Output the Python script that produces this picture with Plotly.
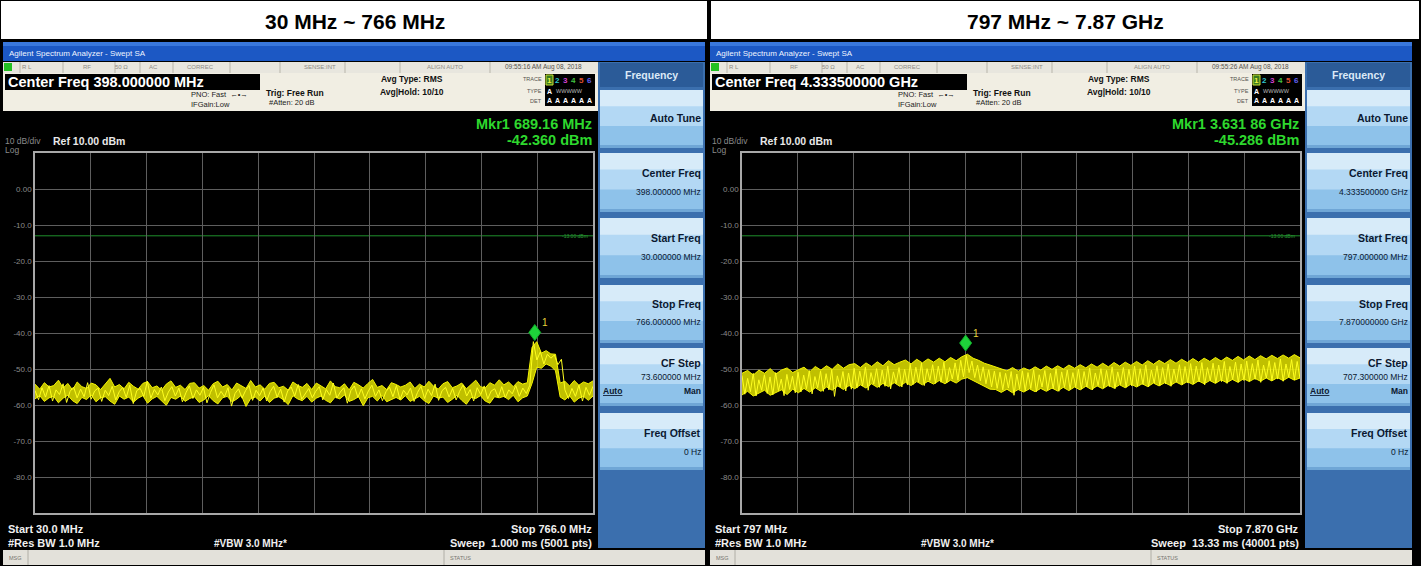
import numpy as np
import plotly.graph_objects as go

W, H = 1421, 566
FONT = "Liberation Sans, Arial, sans-serif"

# ------------------------------------------------------------------ data
panel_titles = ["30 MHz ~ 766 MHz", "797 MHz ~ 7.87 GHz"]
left_start_mhz, left_stop_mhz = 30.0, 766.0
right_start_mhz, right_stop_mhz = 797.0, 7870.0
ref_level_dbm = 10.0
bottom_level_dbm = -90.0
y_tick_values = [0, -10, -20, -30, -40, -50, -60, -70, -80]
y_tick_labels = ["0.00", "-10.0", "-20.0", "-30.0", "-40.0", "-50.0", "-60.0", "-70.0", "-80.0"]
limit_line_dbm = -13.0
left_marker_mhz, left_marker_dbm = 689.16, -42.36
right_marker_mhz, right_marker_dbm = 3631.86, -45.286

left_trace_max_dbm = [
    -54.2, -55.6, -53.8, -55.0, -54.6, -53.1, -55.3, -54.0, -55.8, -53.6, -54.9, -55.4, -53.9, -54.4, -55.7, -54.1, -52.6, -55.0, -54.3, -55.5,
    -53.7, -54.8, -55.6, -54.0, -53.5, -55.2, -54.7, -55.9, -54.2, -53.3, -55.1, -54.5, -55.7, -54.0, -53.8, -55.3, -54.6, -55.9, -54.1, -53.4,
    -55.0, -54.3, -55.8, -53.9, -54.7, -55.4, -53.2, -55.0, -54.4, -55.6, -54.0, -53.7, -55.2, -54.8, -55.9, -53.6, -54.5, -55.1, -54.0, -55.7,
    -53.9, -54.6, -55.5, -53.3, -54.9, -55.2, -54.1, -55.8, -53.7, -54.4, -55.3, -54.0, -52.9, -55.1, -54.6, -55.7, -53.8, -54.3, -55.0, -54.5,
    -53.6, -55.4, -54.2, -55.0, -53.4, -54.8, -55.6, -54.1, -53.5, -55.2, -54.7, -53.9, -55.5, -54.3, -53.1, -54.9, -55.3, -53.8, -54.5, -53.0,
    -54.4, -53.6, -54.9, -53.5, -54.2, -53.8, -44.0, -42.4, -45.6, -44.9, -45.8, -45.9, -53.9, -53.4, -54.7, -53.2, -54.5, -53.6, -54.1, -53.3,
]
left_trace_min_dbm = [
    -58.3, -57.4, -59.0, -58.0, -57.6, -59.4, -58.1, -57.3, -58.8, -59.6, -57.9, -58.5, -57.2, -59.1, -58.0, -57.7, -58.9, -59.8, -57.5, -58.4,
    -57.8, -59.2, -58.1, -57.4, -59.5, -58.3, -57.6, -58.9, -60.1, -57.9, -58.4, -57.5, -59.0, -58.2, -57.7, -59.3, -58.6, -57.4, -58.8, -59.7,
    -58.0, -57.6, -59.1, -58.4, -57.3, -60.4, -58.2, -57.8, -58.9, -57.5, -59.3, -58.1, -57.7, -58.6, -59.9, -57.4, -58.3, -58.8, -57.6, -59.2,
    -58.1, -57.5, -58.7, -59.4, -57.8, -58.3, -57.2, -59.0, -58.5, -57.7, -60.2, -58.0, -57.6, -58.9, -57.3, -59.1, -58.4, -57.9, -58.6, -57.4,
    -59.0, -58.2, -57.6, -58.8, -59.6, -57.5, -58.1, -57.8, -59.3, -58.4, -57.3, -58.7, -59.8, -57.9, -58.2, -57.4, -58.9, -59.5, -57.7, -58.0,
    -57.6, -58.5, -57.3, -59.1, -58.0, -57.5, -54.0, -49.5, -49.8, -48.6, -49.2, -50.5, -57.8, -58.6, -57.4, -59.2, -58.1, -57.6, -58.7, -57.5,
]
# individual sweep samples (dBm)
left_trace_dbm = [
    -56.0, -58.5, -55.2, -57.8, -54.6, -58.9, -55.8, -57.1, -54.1, -59.3, -56.2, -55.0, -58.0, -55.6, -57.7, -53.8, -58.4, -56.1, -55.3, -59.0,
    -55.9, -57.4, -54.8, -58.6, -56.3, -55.1, -57.9, -54.5, -59.6, -56.0, -55.4, -57.6, -53.4, -58.1, -55.7, -57.2, -55.0, -58.8, -56.4, -54.9,
    -57.5, -55.3, -59.1, -56.6, -54.7, -58.2, -55.8, -57.3, -55.1, -59.4, -56.5, -54.4, -58.0, -56.2, -57.7, -55.2, -60.3, -56.8, -55.5, -58.1,
    -56.0, -54.6, -58.7, -55.9, -57.4, -55.3, -58.9, -56.3, -54.8, -57.8, -55.6, -59.2, -56.1, -55.0, -57.5, -54.3, -58.4, -56.7, -55.4, -58.0,
    -56.2, -54.9, -58.6, -55.7, -57.3, -53.9, -58.1, -56.4, -55.2, -59.5, -56.0, -54.7, -57.9, -55.5, -58.3, -56.1, -54.5, -57.6, -55.8, -58.8,
    -56.3, -55.0, -57.7, -54.6, -58.5, -55.9, -57.2, -55.3, -59.0, -56.5, -54.8, -58.2, -55.6, -57.4, -54.2, -58.7, -56.0, -55.1, -57.8, -55.4,
    -58.6, -56.2, -54.4, -57.5, -55.7, -58.9, -55.2, -57.1, -54.7, -58.3, -56.1, -55.5, -57.9, -54.9, -58.0, -55.8, -56.9, -54.6, -57.6, -55.3,
    -56.8, -54.5, -42.4, -47.5, -45.2, -48.6, -45.9, -47.0, -46.1, -48.8, -47.3, -55.8, -58.2, -55.4, -57.6, -54.5, -58.9, -55.1, -57.3, -54.8,
]
right_trace_max_dbm = [
    -51.2, -50.4, -51.7, -50.3, -51.2, -49.9, -51.4, -50.3, -49.7, -51.0, -50.2, -49.5, -50.8, -49.3, -50.3, -49.1, -50.1, -48.6, -49.8, -48.8,
    -48.5, -49.6, -48.3, -49.3, -48.0, -49.1, -47.7, -48.8, -48.1, -47.5, -48.6, -47.3, -48.3, -47.2, -48.1, -47.0, -48.0, -46.8, -47.7, -46.6,
    -45.9, -47.0, -47.6, -48.4, -48.9, -49.5, -49.9, -50.5, -49.6, -50.6, -49.7, -50.4, -49.4, -50.3, -49.2, -50.1, -49.1, -50.0, -48.9, -49.8,
    -48.8, -49.7, -48.6, -49.5, -48.4, -49.4, -48.2, -49.2, -48.1, -49.0, -47.9, -48.9, -47.7, -48.7, -47.6, -48.5, -47.4, -48.4, -47.3, -48.2,
    -47.1, -48.1, -47.0, -47.9, -46.8, -47.8, -46.7, -47.6, -46.5, -47.5, -46.4, -47.4, -46.3, -47.2, -46.2, -47.1, -46.1, -47.0, -46.0, -46.9,
]
right_trace_min_dbm = [
    -57.2, -56.2, -57.5, -56.8, -55.9, -57.3, -56.5, -55.8, -57.1, -55.6, -56.6, -55.4, -56.4, -55.2, -56.2, -55.0, -55.9, -54.7, -55.7, -54.6,
    -55.5, -54.4, -55.3, -54.1, -55.1, -54.0, -54.9, -53.8, -54.8, -53.7, -54.6, -53.5, -54.4, -53.4, -54.2, -53.2, -54.1, -53.1, -53.9, -52.8,
    -52.4, -53.2, -54.0, -54.9, -55.6, -55.7, -56.5, -55.6, -56.6, -55.7, -56.4, -55.5, -56.3, -55.4, -56.2, -55.3, -56.1, -55.1, -56.0, -55.0,
    -55.8, -54.8, -55.7, -54.7, -55.5, -54.5, -55.3, -54.4, -55.2, -54.2, -55.0, -54.1, -54.9, -53.9, -54.7, -53.8, -54.6, -53.6, -54.4, -53.5,
    -54.3, -53.3, -54.1, -53.2, -54.0, -53.0, -53.8, -52.9, -53.7, -52.7, -53.5, -52.6, -53.4, -52.5, -53.3, -52.4, -53.2, -52.3, -53.1, -52.5,
]
right_trace_dbm = [
    -51.8, -57.0, -52.6, -56.3, -51.2, -57.5, -53.0, -55.9, -51.6, -56.8, -52.2, -57.2, -51.0, -56.0, -52.8, -57.4, -51.5, -55.7, -52.0, -56.6,
    -50.9, -56.4, -51.7, -55.5, -50.4, -56.9, -52.1, -55.2, -50.6, -56.2, -51.3, -55.8, -50.2, -57.6, -51.9, -55.0, -50.7, -56.1, -51.1, -55.6,
    -49.8, -55.3, -50.6, -54.7, -49.5, -55.9, -51.0, -54.2, -49.9, -55.1, -50.3, -54.8, -49.2, -55.5, -50.8, -54.0, -49.6, -55.0, -50.1, -54.4,
    -48.7, -54.3, -49.5, -53.6, -48.4, -54.6, -49.9, -53.2, -48.8, -54.0, -49.2, -53.7, -48.1, -53.9, -49.6, -52.8, -48.3, -53.1, -47.6, -52.2,
    -46.3, -51.0, -47.8, -52.4, -48.9, -53.3, -49.4, -54.1, -50.2, -55.0, -50.6, -55.4, -50.9, -55.8, -51.2, -55.3, -50.7, -57.3, -51.4, -55.6,
    -50.5, -56.1, -51.0, -55.4, -50.2, -56.3, -51.6, -55.0, -50.4, -55.9, -51.2, -55.5, -49.9, -56.2, -50.8, -55.1, -50.3, -55.7, -51.0, -54.9,
    -50.0, -55.6, -50.7, -55.0, -49.7, -55.8, -51.1, -54.6, -49.9, -55.3, -50.4, -54.9, -49.4, -55.5, -50.8, -54.3, -49.6, -55.1, -50.1, -54.7,
    -49.2, -54.8, -49.9, -54.3, -48.9, -55.0, -50.3, -53.9, -49.1, -54.6, -49.6, -54.1, -48.6, -54.8, -50.0, -53.6, -48.8, -54.4, -49.3, -53.9,
    -48.5, -54.1, -49.2, -53.6, -48.2, -54.4, -49.6, -53.2, -48.4, -53.9, -48.9, -53.5, -47.9, -54.0, -49.3, -52.9, -48.1, -53.7, -48.6, -53.2,
    -47.8, -53.4, -48.5, -52.9, -47.5, -53.7, -48.9, -52.5, -47.7, -53.2, -48.2, -52.8, -47.2, -53.4, -48.6, -52.3, -47.4, -53.0, -47.9, -52.6,
]

screens = [
    dict(center="Center Freq 398.000000 MHz", date="09:55:16 AM Aug 08, 2018",
         mkr1="Mkr1 689.16 MHz", mkr2="-42.360 dBm",
         menu=[("Center Freq", "398.000000 MHz"), ("Start Freq", "30.000000 MHz"),
               ("Stop Freq", "766.000000 MHz"), ("CF Step", "73.600000 MHz"), ("Freq Offset", "0 Hz")],
         start="Start 30.0 MHz", stop="Stop 766.0 MHz", sweep="Sweep  1.000 ms (5001 pts)"),
    dict(center="Center Freq 4.333500000 GHz", date="09:55:26 AM Aug 08, 2018",
         mkr1="Mkr1 3.631 86 GHz", mkr2="-45.286 dBm",
         menu=[("Center Freq", "4.333500000 GHz"), ("Start Freq", "797.000000 MHz"),
               ("Stop Freq", "7.870000000 GHz"), ("CF Step", "707.300000 MHz"), ("Freq Offset", "0 Hz")],
         start="Start 797 MHz", stop="Stop 7.870 GHz", sweep="Sweep  13.33 ms (40001 pts)"),
]

# ------------------------------------------------------------------ helpers
shapes, ann = [], []


def px(x):
    return x / W


def py(y):
    return 1 - y / H


def rect(x0, y0, x1, y1, fill, line=None, lw=0):
    shapes.append(dict(type="rect", xref="paper", yref="paper", x0=px(x0), x1=px(x1),
                       y0=py(y1), y1=py(y0), fillcolor=fill,
                       line=dict(width=lw, color=line or fill), layer="below"))


def vline(x, y0, y1, color, lw=1):
    shapes.append(dict(type="line", xref="paper", yref="paper", x0=px(x), x1=px(x),
                       y0=py(y0), y1=py(y1), line=dict(width=lw, color=color), layer="below"))


def text(x, y, s, size=9, color="white", anchor="left", bold=False, family=FONT):
    ann.append(dict(xref="paper", yref="paper", x=px(x), y=py(y),
                    text=f"<b>{s}</b>" if bold else s, showarrow=False,
                    xanchor=anchor, yanchor="middle", borderpad=0,
                    font=dict(size=size, color=color, family=family)))


# ------------------------------------------------------------------ figure
fig = go.Figure()

# title row
rect(1, 1, 707, 39, "white")
rect(711, 1, 1419, 39, "white")
text(355, 21, panel_titles[0], size=21, color="black", anchor="center", bold=True)
text(1065, 21, panel_titles[1], size=21, color="black", anchor="center", bold=True)

OFFS = [0, 707]
for sc, ox in zip(screens, OFFS):
    # window title bar
    rect(ox + 3, 42, ox + 705, 61, "#1c58c4")
    rect(ox + 3, 42, ox + 705, 46, "#3a78dc")
    text(ox + 8, 53, "Agilent Spectrum Analyzer - Swept SA", size=8, color="#eef4ff")
    # status row
    rect(ox + 3, 62, ox + 598, 73, "#e8e6de")
    rect(ox + 4, 63, ox + 12, 71, "#22c022")
    for sx in [20, 63, 115, 140, 173, 230, 280, 345, 400, 490]:
        vline(ox + sx, 62, 73, "#b8b5aa")
    for sx, s in [(27, "R L"), (87, "RF"), (121, "50 Ω"), (153, "AC"), (200, "CORREC"),
                  (320, "SENSE:INT"), (445, "ALIGN AUTO")]:
        text(ox + sx, 67.5, s, size=6, color="#8d8b86", anchor="center")
    text(ox + 543, 67.5, sc["date"], size=6.5, color="#55534e", anchor="center")
    # info area
    rect(ox + 3, 73, ox + 598, 111, "#f1eee3")
    rect(ox + 5, 74, ox + 260, 90, "black")
    text(ox + 7, 82, sc["center"], size=14.5, color="white", bold=True)
    text(ox + 190, 95, "PNO: Fast  ←•→", size=7.5, color="#222")
    text(ox + 190, 105, "IFGain:Low", size=7.5, color="#222")
    text(ox + 265, 93, "Trig: Free Run", size=8.5, color="#111", bold=True)
    text(ox + 268, 103, "#Atten: 20 dB", size=7.5, color="#222")
    text(ox + 380, 79, "Avg Type: RMS", size=8.5, color="#111", bold=True)
    text(ox + 379, 92, "Avg|Hold: 10/10", size=8.5, color="#111", bold=True)
    for yy, s in [(79, "TRACE"), (91, "TYPE"), (101, "DET")]:
        text(ox + 543, yy, s, size=5.5, color="#55534e", anchor="right")
    rect(ox + 545, 74, ox + 595, 106, "black")
    rect(ox + 546, 75, ox + 553, 85, "#3a7a20", line="#c8e030", lw=1)
    for i, col in enumerate(["#f0f040", "#30c8d0", "#d040d0", "#40c040", "#e05030", "#6060f0"]):
        text(ox + 549.5 + i * 8, 80, str(i + 1), size=8, color=col, anchor="center", bold=True)
    text(ox + 549.5, 91, "A", size=7, color="white", anchor="center", bold=True)
    text(ox + 555, 91, "WWWWW", size=5.5, color="#bbbbbb")
    for i in range(6):
        text(ox + 549.5 + i * 8, 101, "A", size=7, color="white", anchor="center", bold=True)

    # marker readout and reference
    text(ox + 593, 123.5, sc["mkr1"], size=14.5, color="#2ed82e", anchor="right", bold=True)
    text(ox + 593, 139.5, sc["mkr2"], size=14.5, color="#2ed82e", anchor="right", bold=True)
    text(ox + 4, 141, "10 dB/div", size=8.5, color="#8a8a8a")
    text(ox + 52, 141, "Ref 10.00 dBm", size=10.5, color="#e8e8e8", bold=True)
    text(ox + 4, 150, "Log", size=8.5, color="#8a8a8a")

    # bottom readouts
    text(ox + 7, 529, sc["start"], size=11, color="#f0f0f0", bold=True)
    text(ox + 593, 529, sc["stop"], size=11, color="#f0f0f0", anchor="right", bold=True)
    text(ox + 7, 543, "#Res BW 1.0 MHz", size=11, color="#f0f0f0", bold=True)
    text(ox + 213, 543, "#VBW 3.0 MHz*", size=10, color="#f0f0f0", bold=True)
    text(ox + 593, 543, sc["sweep"], size=11, color="#f0f0f0", anchor="right", bold=True)

    # message bar
    rect(ox + 3, 550, ox + 705, 565, "#e3e1da")
    vline(ox + 28, 550, 565, "#b0aea6")
    vline(ox + 444, 550, 565, "#b0aea6")
    text(ox + 8, 557.5, "MSG", size=5.5, color="#77756f")
    text(ox + 449, 557.5, "STATUS", size=5.5, color="#77756f")

    # softkey menu
    rect(ox + 598, 62, ox + 705, 548, "#3b6fae")
    rect(ox + 600, 63, ox + 703, 87, "#2b5b98")
    text(ox + 651, 75, "Frequency", size=10.5, color="#dce9f7", anchor="center", bold=True)
    buttons = [(90, 148, "Auto Tune", None)] + [
        (y0, y1, t, v) for (y0, y1), (t, v) in zip(
            [(153, 212), (218, 278), (285, 343), (348, 406), (413, 470)], sc["menu"])]
    for y0, y1, t, v in buttons:
        h = y1 - y0
        rect(ox + 600, y0, ox + 703, y1, "#8ec2ea")
        rect(ox + 600, y0, ox + 703, y0 + h * 0.62, "#b3d8f4")
        rect(ox + 600, y0, ox + 703, y0 + h * 0.28, "#d7ebf9")
        rect(ox + 600, y1 - 3, ox + 703, y1, "#6fa6d6")
    text(ox + 702, 118, "Auto Tune", size=10.5, color="#0b1830", anchor="right", bold=True)
    for (y0, y1, t, v), ty, vy in zip(buttons[1:], [173, 238, 304, 363, 433], [192, 257, 322, 377, 452]):
        text(ox + 702, ty, t, size=10.5, color="#0b1830", anchor="right", bold=True)
        text(ox + 702, vy, v, size=8.5, color="#0b1830", anchor="right")
    text(ox + 602, 391, "<u>Auto</u>", size=8.5, color="#0b1830", anchor="left", bold=True)
    text(ox + 702, 391, "Man", size=8.5, color="#0b1830", anchor="right", bold=True)

# ------------------------------------------------------------------ traces
panels = [
    dict(xa="x", ya="y", start=left_start_mhz, stop=left_stop_mhz,
         vmax=left_trace_max_dbm, vmin=left_trace_min_dbm, samples=left_trace_dbm,
         mk=(left_marker_mhz, left_marker_dbm), dom=(35, 593)),
    dict(xa="x2", ya="y2", start=right_start_mhz, stop=right_stop_mhz,
         vmax=right_trace_max_dbm, vmin=right_trace_min_dbm, samples=right_trace_dbm,
         mk=(right_marker_mhz, right_marker_dbm), dom=(742, 1300)),
]
for i, p in enumerate(panels):
    freqs = np.linspace(p["start"], p["stop"], len(p["vmax"]))
    fig.add_trace(go.Scatter(x=freqs, y=p["vmin"], xaxis=p["xa"], yaxis=p["ya"], mode="lines",
                             line=dict(color="#f4f400", width=1), hoverinfo="skip",
                             showlegend=False))
    fig.add_trace(go.Scatter(x=freqs, y=p["vmax"], xaxis=p["xa"], yaxis=p["ya"], mode="lines",
                             line=dict(color="#f4f400", width=1), fill="tonexty",
                             fillcolor="rgba(226,226,0,0.85)", hoverinfo="skip",
                             showlegend=False))
    sfreqs = np.linspace(p["start"], p["stop"], len(p["samples"]))
    fig.add_trace(go.Scatter(x=sfreqs, y=p["samples"], xaxis=p["xa"], yaxis=p["ya"], mode="lines",
                             line=dict(color="#ffff20", width=1), hoverinfo="skip",
                             showlegend=False))
    # limit line
    shapes.append(dict(type="line", xref=f"{p['xa']} domain", yref=p["ya"], x0=0, x1=1,
                       y0=limit_line_dbm, y1=limit_line_dbm,
                       line=dict(color="#1f8f2c", width=1), layer="below"))
    ann.append(dict(xref=f"{p['xa']} domain", yref=p["ya"], x=0.995, y=limit_line_dbm,
                    text="-13.00 dBm", showarrow=False, xanchor="right", yanchor="middle",
                    font=dict(size=5, color="#2a9a36", family=FONT)))
    # marker diamond, sitting on the marker point
    mx, my = p["mk"]
    shapes.append(dict(type="path", xref=p["xa"], yref=p["ya"], xsizemode="pixel",
                       ysizemode="pixel", xanchor=mx, yanchor=my,
                       path="M0,1 L6,9 L0,17 L-6,9 Z", fillcolor="#1ed23a",
                       line=dict(color="#11a82a", width=1), layer="above"))
    ann.append(dict(xref=p["xa"], yref=p["ya"], x=mx, y=my, text="1", showarrow=False,
                    xshift=10, yshift=19, font=dict(size=10, color="#e6d23a", family=FONT)))

axis_common = dict(showgrid=True, gridcolor="#5e5e5e", gridwidth=1, zeroline=False,
                   showline=True, mirror=True, linecolor="#a8a8a8", linewidth=1.5, ticks="")
layout_axes = {}
for i, p in enumerate(panels):
    sfx = "" if i == 0 else "2"
    grid_vals = list(np.linspace(p["start"], p["stop"], 11)[1:-1])
    layout_axes[f"xaxis{sfx}"] = dict(axis_common, domain=[px(p["dom"][0]), px(p["dom"][1])],
                                      range=[p["start"], p["stop"]], tickvals=grid_vals,
                                      showticklabels=False, anchor=f"y{sfx}")
    layout_axes[f"yaxis{sfx}"] = dict(axis_common, domain=[py(513), py(153)],
                                      range=[bottom_level_dbm, ref_level_dbm],
                                      tickvals=y_tick_values, ticktext=y_tick_labels,
                                      tickfont=dict(size=8, color="#8a8a8a", family=FONT),
                                      anchor=f"x{sfx}")

fig.update_layout(width=W, height=H, margin=dict(l=0, r=0, t=0, b=0),
                  paper_bgcolor="black", plot_bgcolor="black",
                  shapes=shapes, annotations=ann, **layout_axes)

fig.write_html("out.html", config={"displayModeBar": False},
               post_script="document.body.style.margin='0';document.body.style.overflow='hidden';")
